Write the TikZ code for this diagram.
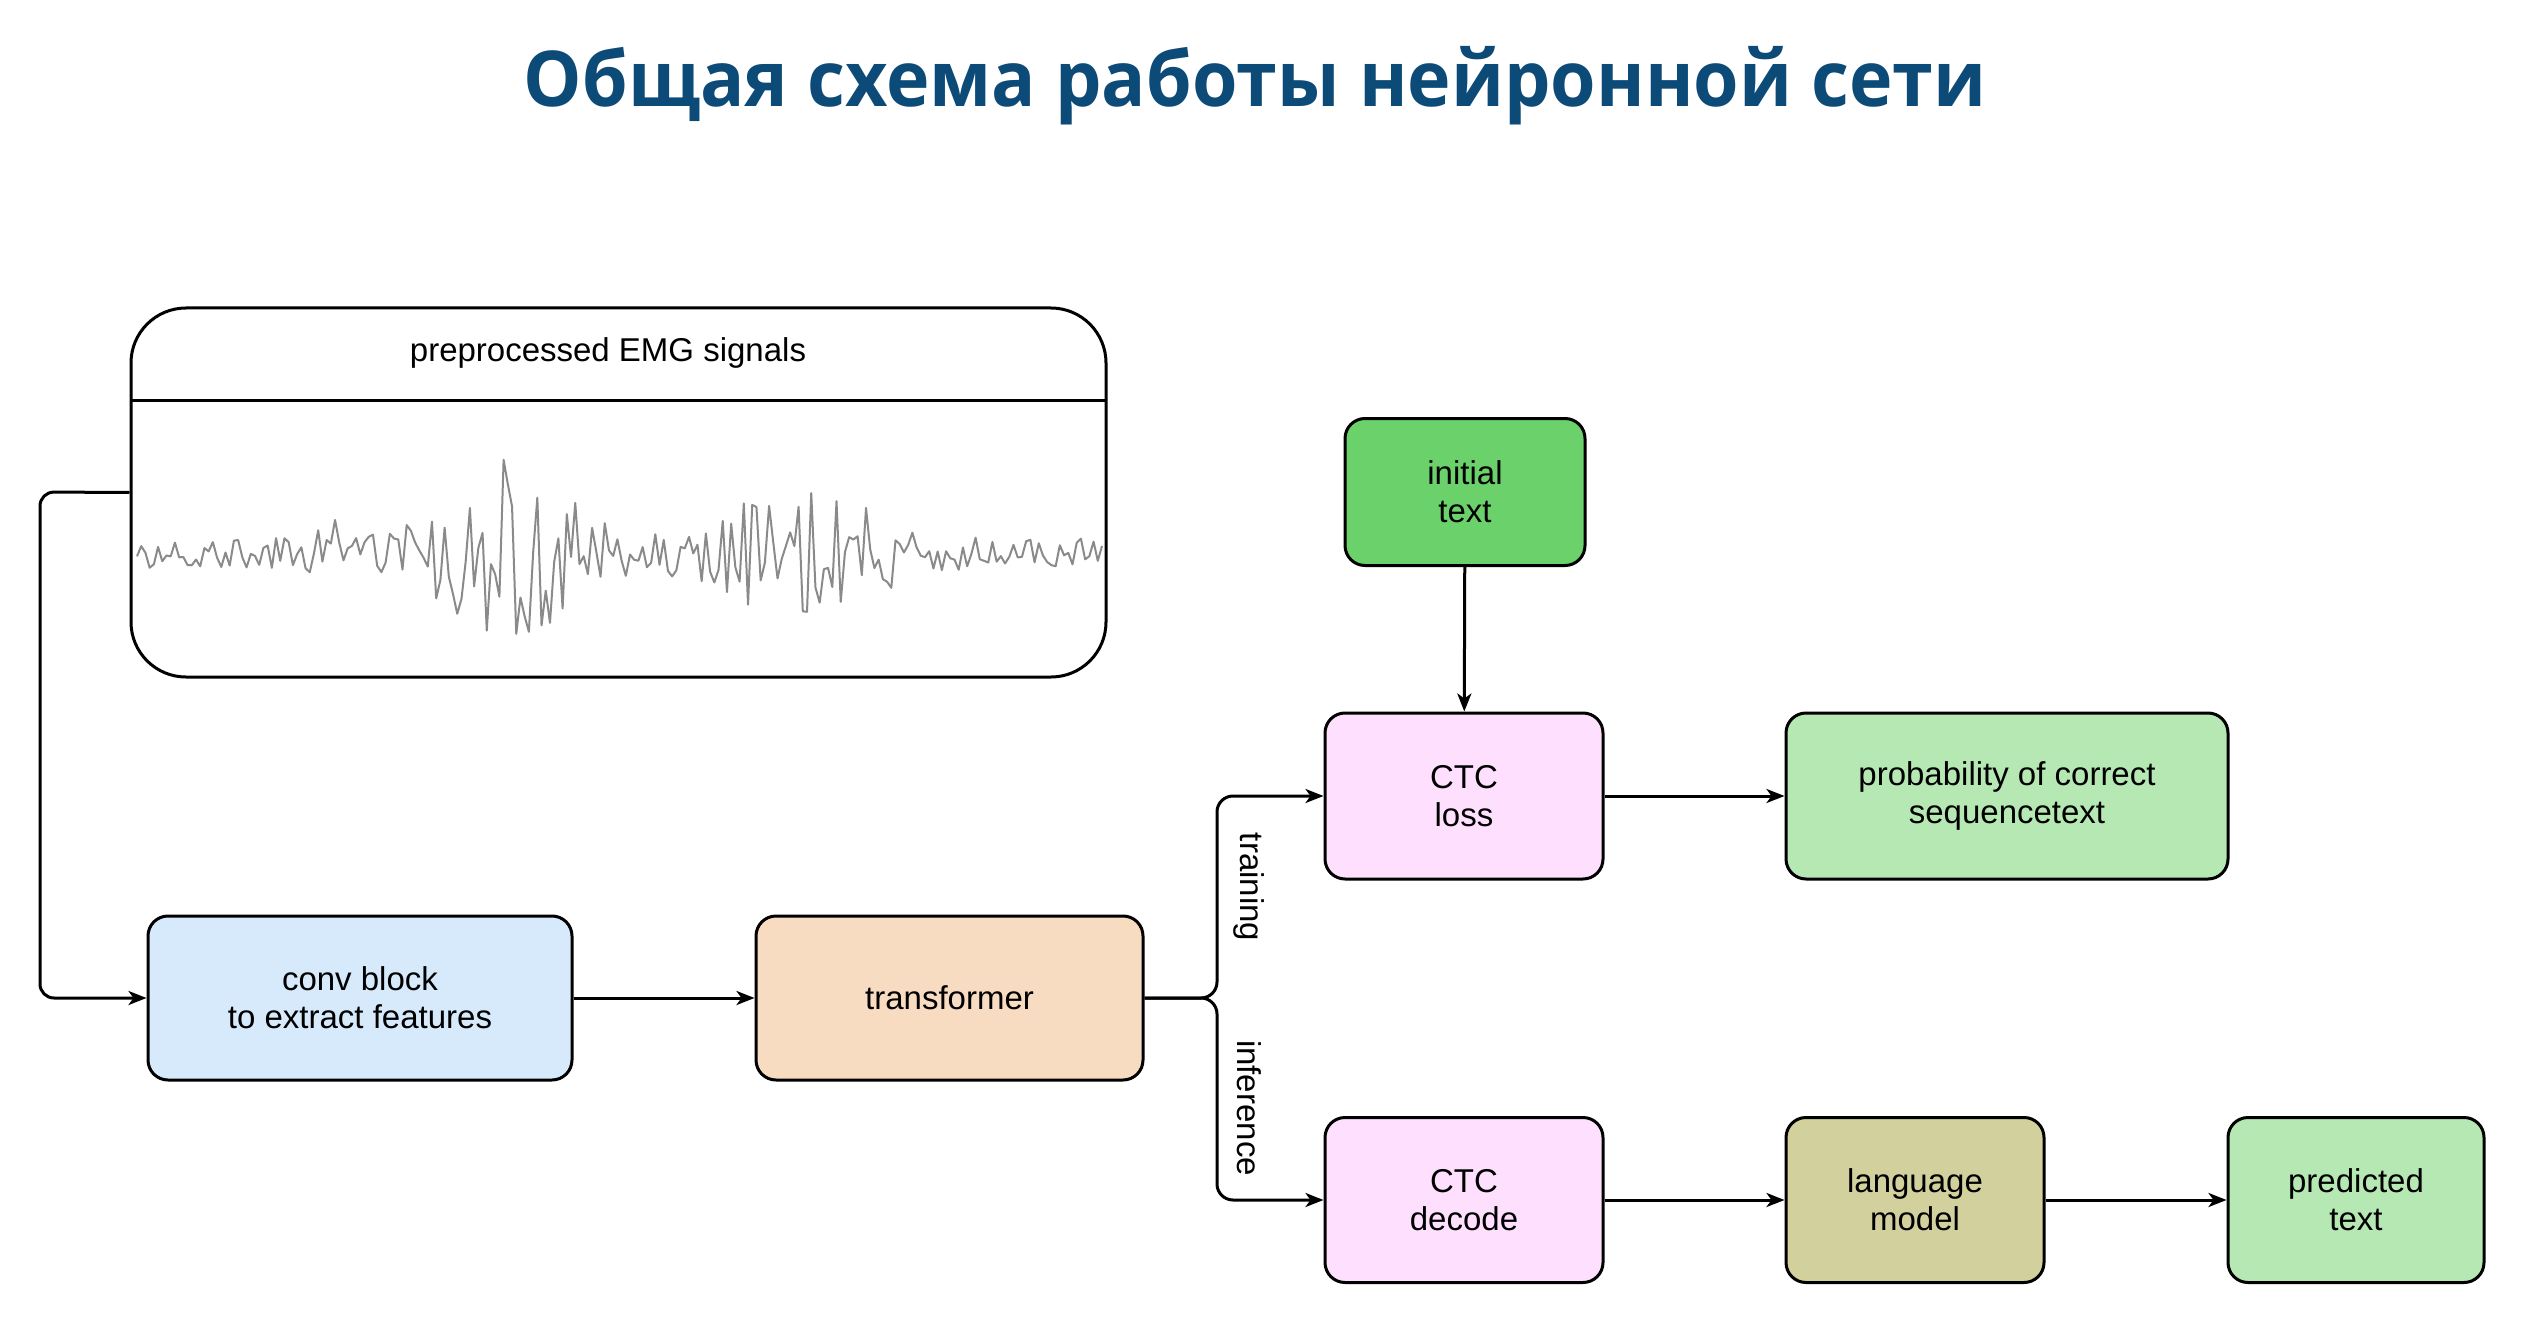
\documentclass[tikz,border=0pt]{standalone}
\usepackage{fontspec}
\setmainfont{Liberation Sans}
\newfontfamily\titlefam{Open Sans}[FakeStretch=0.955]
\usetikzlibrary{arrows.meta}
\definecolor{titleblue}{HTML}{0C4A78}
\definecolor{convc}{HTML}{D6EAFB}
\definecolor{transc}{HTML}{F8DCC2}
\definecolor{pinkc}{HTML}{FEE0FE}
\definecolor{lgreen}{HTML}{B6E8B4}
\definecolor{dgreen}{HTML}{6BD26B}
\definecolor{olivec}{HTML}{D2D19D}
\definecolor{sigc}{HTML}{8A8A8A}
\tikzset{
  boxst/.style={draw=black, line width=3pt, rounded corners=20pt, align=center,
    inner sep=0pt, font=\fontsize{33}{38}\selectfont},
  arr/.style={line width=3pt, -{Stealth[length=18pt,width=14pt,inset=5pt]}},
  lbl/.style={font=\fontsize{33}{38}\selectfont, inner sep=0pt},
}
\begin{document}
\begin{tikzpicture}[x=1pt, y=-1pt,
  declare function={env(\t)=15+85*exp(-((\t-505)/75)^2)+50*exp(-((\t-800)/95)^2)+30*exp(-((\t-335)/18)^2);}]
\useasboundingbox (0,0) rectangle (2528,1332);
\fill[white] (0,0) rectangle (2528,1332);

\node[font=\titlefam\bfseries\fontsize{77}{86}\selectfont, text=titleblue, anchor=base, inner sep=0pt] (title) at (1255,107) {Общая схема работы нейронной сети};

% EMG box
\node[draw=black, line width=3pt, rounded corners=55pt, minimum width=975pt, minimum height=369pt, inner sep=0pt] (emg) at (618.5,492.5) {};
\coordinate (hl) at (131,400);
\coordinate (hr) at (1106,400);
\draw[line width=3pt] (hl) -- (hr);
\node[lbl] (emglbl) at (608,353) {preprocessed EMG signals};
\pgfmathsetseed{7}
\draw[sigc, line width=2pt, line join=round] plot[domain=137:1102, samples=230] (\x, {553+env(\x)*rand});

% boxes
\node[boxst, fill=convc, minimum width=424pt, minimum height=164pt] (conv) at (360,998) {conv block\\to extract features};
\node[boxst, fill=transc, minimum width=387pt, minimum height=164pt] (trans) at (949.5,998) {transformer};
\node[boxst, fill=pinkc, minimum width=278pt, minimum height=166pt] (ctcloss) at (1464,796) {CTC\\loss};
\node[boxst, fill=dgreen, minimum width=240pt, minimum height=147pt] (init) at (1465,492) {initial\\text};
\node[boxst, fill=lgreen, minimum width=442pt, minimum height=166pt] (prob) at (2007,796) {probability of correct\\sequencetext};
\node[boxst, fill=pinkc, minimum width=278pt, minimum height=165pt] (ctcdec) at (1464,1200) {CTC\\decode};
\node[boxst, fill=olivec, minimum width=258pt, minimum height=165pt] (lm) at (1915,1200) {language\\model};
\node[boxst, fill=lgreen, minimum width=256pt, minimum height=165pt] (pred) at (2356,1200) {predicted\\text};

% connectors
\coordinate (lc) at (40,492);
\draw[arr, rounded corners=14pt] (emg.west) -- (lc) |- (conv.west);
\draw[arr] (conv) -- (trans);
\coordinate (fork) at (1217,998);
\draw[arr, rounded corners=16pt] (trans.east) -- (fork) |- (ctcloss.west);
\draw[arr, rounded corners=16pt] (trans.east) -- (fork) |- (ctcdec.west);
\draw[arr] (init) -- (ctcloss);
\draw[arr] (ctcloss) -- (prob);
\draw[arr] (ctcdec) -- (lm);
\draw[arr] (lm) -- (pred);

\node[lbl, rotate=-90] (train) at (1249,887) {training};
\node[lbl, rotate=-90] (infer) at (1249,1108) {inference};
\end{tikzpicture}
\end{document}
